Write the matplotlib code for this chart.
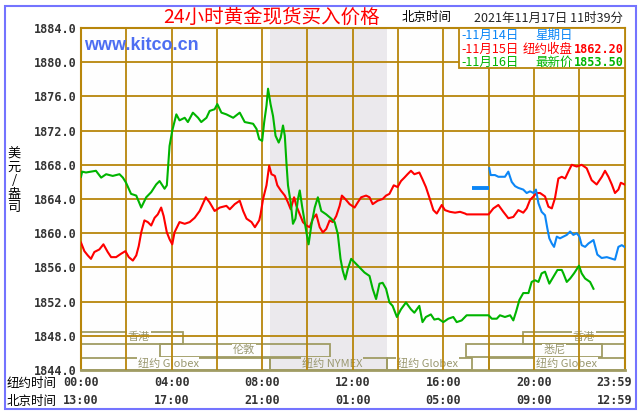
import matplotlib
matplotlib.use('Agg')
import matplotlib.pyplot as plt
from matplotlib.patches import Rectangle

# ---------------- data ----------------
green_hours = [0.0, 0.05, 0.22, 0.66, 0.89, 1.11, 1.40, 1.70, 1.85, 1.99, 2.21, 2.44, 2.66, 2.88, 3.10,
               3.32, 3.47, 3.69, 3.79, 3.91, 4.03, 4.21, 4.35, 4.58, 4.72, 4.94, 5.17, 5.31, 5.54, 5.68,
               5.90, 6.02, 6.20, 6.42, 6.72, 7.01, 7.23, 7.60, 7.75, 7.87, 8.0, 8.09, 8.19, 8.26, 8.37,
               8.48, 8.59, 8.73, 8.82, 8.92, 9.00, 9.07, 9.14, 9.26, 9.36, 9.47, 9.58, 9.66, 9.76, 9.88,
               9.98, 10.05, 10.17, 10.32, 10.46, 10.61, 10.83, 11.05, 11.20, 11.34, 11.46, 11.56, 11.67,
               11.78, 11.93, 12.08, 12.30, 12.52, 12.74, 12.88, 13.03, 13.18, 13.32, 13.47, 13.62, 13.76,
               13.95, 14.13, 14.35, 14.57, 14.72, 14.94, 15.08, 15.23, 15.45, 15.60, 15.78, 16.0, 16.22,
               16.44, 16.59, 16.81, 17.03, 17.18, 18.0, 18.14, 18.36, 18.50, 18.72, 18.95, 19.09, 19.21,
               19.36, 19.53, 19.76, 19.90, 20.05, 20.20, 20.34, 20.49, 20.68, 20.86, 21.04, 21.23, 21.30,
               21.45, 21.60, 21.77, 21.99, 22.11, 22.26, 22.48, 22.63]
green_values = [1866.6, 1867.2, 1867.1, 1867.3, 1866.5, 1866.9, 1866.7, 1866.9, 1866.5, 1865.9, 1864.6,
                1864.4, 1863.0, 1864.2, 1864.8, 1865.7, 1866.1, 1865.2, 1865.6, 1870.2, 1872.0, 1873.9,
                1873.2, 1873.5, 1873.0, 1874.1, 1873.5, 1873.0, 1873.5, 1874.3, 1874.5, 1875.1, 1874.1,
                1873.9, 1873.5, 1874.1, 1873.0, 1872.8, 1872.2, 1871.0, 1870.8, 1873.0, 1874.9, 1876.9,
                1875.1, 1873.7, 1871.4, 1870.6, 1871.2, 1872.6, 1871.4, 1868.3, 1865.6, 1863.6, 1861.1,
                1861.7, 1864.0, 1865.0, 1863.2, 1861.3, 1859.7, 1858.7, 1860.9, 1863.0, 1864.2, 1862.6,
                1862.2, 1861.7, 1861.3, 1859.9, 1857.0, 1855.6, 1854.6, 1855.8, 1857.0, 1856.6, 1856.0,
                1855.4, 1855.0, 1853.5, 1852.3, 1854.1, 1854.2, 1853.5, 1851.9, 1851.5, 1850.2, 1851.1,
                1851.9, 1851.1, 1850.7, 1851.5, 1849.6, 1850.2, 1850.5, 1849.9, 1850.0, 1849.6, 1850.0,
                1850.2, 1849.6, 1849.8, 1850.4, 1850.4, 1850.4, 1850.0, 1850.0, 1850.4, 1850.2, 1850.4,
                1849.8, 1850.8, 1852.2, 1853.0, 1853.0, 1854.3, 1854.5, 1854.3, 1855.3, 1855.5, 1854.1,
                1854.9, 1855.7, 1855.7, 1855.3, 1854.3, 1854.7, 1855.3, 1856.2, 1855.3, 1854.7, 1854.3,
                1853.5]

red_hours = [0.0, 0.15, 0.30, 0.44, 0.59, 0.81, 0.99, 1.18, 1.33, 1.55, 1.77, 1.96, 2.11, 2.29, 2.44,
             2.55, 2.66, 2.80, 2.95, 3.10, 3.25, 3.39, 3.54, 3.65, 3.79, 3.91, 4.03, 4.13, 4.35, 4.58,
             4.80, 5.02, 5.24, 5.51, 5.68, 5.90, 6.13, 6.42, 6.57, 6.79, 7.01, 7.16, 7.31, 7.53, 7.68,
             7.87, 7.93, 8.04, 8.19, 8.31, 8.41, 8.56, 8.67, 8.82, 9.00, 9.14, 9.26, 9.41, 9.51, 9.66,
             9.80, 9.95, 10.10, 10.24, 10.39, 10.54, 10.68, 10.83, 10.98, 11.12, 11.27, 11.42, 11.52,
             11.67, 11.86, 12.08, 12.22, 12.37, 12.59, 12.74, 12.88, 13.10, 13.32, 13.47, 13.62, 13.81,
             13.98, 14.13, 14.28, 14.42, 14.57, 14.72, 14.94, 15.08, 15.23, 15.38, 15.56, 15.71, 15.93,
             16.07, 16.29, 16.52, 16.74, 16.96, 17.03, 18.0, 18.21, 18.43, 18.65, 18.87, 19.09, 19.31,
             19.53, 19.68, 19.83, 19.98, 20.12, 20.27, 20.49, 20.64, 20.79, 20.93, 21.08, 21.23, 21.38,
             21.52, 21.67, 21.89, 22.11, 22.33, 22.55, 22.77, 23.0, 23.14, 23.29, 23.44, 23.58, 23.73,
             23.84, 24.0]
red_values = [1858.9, 1857.9, 1857.4, 1857.0, 1857.8, 1858.1, 1858.7, 1857.8, 1857.2, 1857.2, 1857.6,
              1857.9, 1857.2, 1856.8, 1857.4, 1858.5, 1860.1, 1861.5, 1861.3, 1860.9, 1861.8, 1862.2,
              1863.0, 1862.0, 1860.1, 1859.3, 1858.7, 1860.1, 1861.3, 1861.1, 1861.3, 1861.8, 1862.6,
              1864.2, 1863.6, 1862.6, 1863.0, 1863.2, 1862.8, 1863.4, 1863.8, 1862.6, 1861.7, 1861.3,
              1860.7, 1861.5, 1862.2, 1864.0, 1865.6, 1867.9, 1866.9, 1866.7, 1865.6, 1865.0, 1864.4,
              1863.6, 1862.8, 1864.2, 1863.2, 1862.2, 1861.3, 1860.9, 1860.7, 1861.7, 1862.2, 1860.7,
              1860.1, 1860.5, 1861.5, 1861.3, 1862.0, 1863.2, 1864.4, 1864.0, 1863.4, 1863.0, 1863.6,
              1864.2, 1864.4, 1864.2, 1863.4, 1863.8, 1864.0, 1864.4, 1864.6, 1865.6, 1865.4, 1866.1,
              1866.5, 1866.9, 1867.3, 1866.9, 1867.1, 1866.3, 1865.4, 1864.2, 1862.7, 1862.3, 1863.3,
              1862.7, 1862.5, 1862.4, 1862.5, 1862.3, 1862.2, 1862.2, 1862.9, 1863.3, 1862.5, 1861.75,
              1861.9, 1862.7, 1862.4, 1862.9, 1863.9, 1864.3, 1864.7, 1864.7, 1864.3, 1863.1, 1862.9,
              1864.1, 1866.4, 1866.6, 1866.4, 1867.2, 1868.0, 1867.8, 1868.0, 1867.6, 1866.2, 1865.7,
              1866.6, 1867.3, 1866.6, 1865.7, 1864.7, 1865.1, 1865.9, 1865.7]

blue_dash_hours = [17.28, 18.0]
blue_dash_values = [1865.3, 1865.3]
blue_hours = [18.03, 18.09, 18.28, 18.43, 18.72, 18.87, 19.02, 19.17, 19.31, 19.53, 19.68, 19.83, 19.98,
              20.09, 20.20, 20.34, 20.49, 20.59, 20.68, 20.79, 20.89, 21.01, 21.15, 21.30, 21.45, 21.60,
              21.74, 21.89, 22.01, 22.11, 22.26, 22.41, 22.63, 22.80, 22.99, 23.22, 23.58, 23.73, 23.88,
              24.0]
blue_values = [1867.6, 1866.8, 1866.8, 1866.6, 1866.6, 1867.2, 1866.0, 1865.5, 1865.3, 1865.1, 1864.7,
               1864.9, 1864.7, 1865.1, 1863.5, 1862.5, 1862.1, 1860.6, 1859.4, 1858.8, 1858.4, 1859.6,
               1859.4, 1859.6, 1859.8, 1860.2, 1859.8, 1860.0, 1859.6, 1858.6, 1858.4, 1858.8, 1859.2,
               1857.5, 1857.1, 1857.2, 1856.9, 1858.4, 1858.6, 1858.4]

y_ticks = [1844, 1848, 1852, 1856, 1860, 1864, 1868, 1872, 1876, 1880, 1884]
x_tick_hours = [0, 4, 8, 12, 16, 20, 23.55]
ny_labels = ['00:00', '04:00', '08:00', '12:00', '16:00', '20:00', '23:59']
bj_labels = ['13:00', '17:00', '21:00', '01:00', '05:00', '09:00', '12:59']

session_names = ['香港', '香港', '伦敦', '悉尼', '纽约 Globex', '纽约 NYMEX', '纽约 Globex', '纽约 Globex']
session_start = [0.0, 19.5, 3.5, 17.0, 0.0, 8.33, 13.5, 18.0]
session_end = [4.5, 24.0, 11.0, 23.0, 8.33, 13.5, 17.25, 24.0]
session_row = [0, 0, 1, 1, 2, 2, 2, 2]
session_label_x = [2.55, 22.2, 7.2, 20.9, 3.85, 11.1, 15.3, 21.45]
row_bottom = [1847.05, 1845.55, 1844.0]
row_top = [1848.5, 1847.0, 1845.45]

nymex_band = (8.33, 13.5)

legend_dates = ['-11月14日', '-11月15日', '-11月16日']
legend_names = ['星期日', '纽约收盘', '最新价']
legend_prices = ['', '1862.20', '1853.50']

# ---------------- style ----------------
CJK = ['Noto Sans CJK SC', 'DejaVu Sans']
GRID = '#b8860b'
SESS = '#a09c64'
SESS_TXT = '#9a9870'
RED = '#ff0000'
GREEN = '#00b400'
BLUE = '#0c86f6'
BAND = '#ebe9ed'

W, H = 644, 413
fig = plt.figure(figsize=(W / 100, H / 100), dpi=100)
fig.patch.set_facecolor('white')

def fx(x):
    return x / W

def fy(y):
    return 1 - y / H

L, R, T, B = 81, 624.5, 28, 370
ax = fig.add_axes([fx(L), fy(B), (R - L) / W, (B - T) / H])
ax.set_facecolor('#fefefe')
ax.set_xlim(0, 24)
ax.set_ylim(1844, 1884)

ax.axvspan(nymex_band[0], nymex_band[1], color=BAND, zorder=0.5, lw=0)

# grid
for yv in y_ticks[1:-1]:
    ax.axhline(yv, color=GRID, lw=1.3, zorder=2.8)
for xv in range(2, 24, 2):
    ax.axvline(xv, color=GRID, lw=1.3, zorder=2.8)

# sessions
for name, s, e, r, lx in zip(session_names, session_start, session_end, session_row, session_label_x):
    ax.add_patch(Rectangle((s, row_bottom[r]), e - s, row_top[r] - row_bottom[r],
                           fill=False, edgecolor=SESS, lw=1.3, zorder=2))
    bg = BAND if nymex_band[0] <= lx <= nymex_band[1] else '#fefefe'
    ax.text(lx, (row_bottom[r] + row_top[r]) / 2 + 0.05, name, family=CJK, fontsize=8,
            color=SESS_TXT, ha='center', va='center', zorder=2.5,
            bbox=dict(facecolor=bg, edgecolor='none', pad=0.6))

# data
ax.plot(red_hours, red_values, color=RED, lw=1.5, zorder=4)
ax.plot(green_hours, green_values, color=GREEN, lw=1.5, zorder=4)
ax.plot(blue_hours, blue_values, color=BLUE, lw=1.5, zorder=4)
ax.plot(blue_dash_hours, blue_dash_values, color=BLUE, lw=2.8, zorder=4, solid_capstyle='butt')

# legend box
ax.add_patch(Rectangle((16.69, 1879.3), 24 - 16.69, 4.7, facecolor='white', edgecolor=GRID,
                       lw=1.3, zorder=5))
leg_colors = [BLUE, RED, GREEN]
leg_y = [1883.15, 1881.5, 1879.95]
for d, n, p, c, yv in zip(legend_dates, legend_names, legend_prices, leg_colors, leg_y):
    ax.text(16.78, yv, d, family=CJK, fontsize=9, color=c, ha='left', va='center', zorder=6)
    ax.text(21.72, yv, n, family=CJK, fontsize=9, color=c, ha='right', va='center', zorder=6)
    if p:
        ax.text(21.77, yv, p, family='DejaVu Sans Mono', fontweight='bold', fontsize=8.5,
                color=c, ha='left', va='center', zorder=6)

for sp in ax.spines.values():
    sp.set_color(GRID)
    sp.set_linewidth(1.5)
ax.spines['bottom'].set_color(SESS)
ax.spines['bottom'].set_linewidth(2)

ax.set_yticks(y_ticks)
ax.set_yticklabels(['%.1f' % v for v in y_ticks])
ax.tick_params(axis='y', length=0, pad=3, labelsize=8.5, labelcolor='#333333')
for lab in ax.get_yticklabels():
    lab.set_fontfamily('DejaVu Sans Mono')
    lab.set_fontweight('bold')
ax.set_xticks([])

tr = ax.get_xaxis_transform()
for h, a, b in zip(x_tick_hours, ny_labels, bj_labels):
    ax.text(h, (B - 383) / (B - T), a, transform=tr, family='DejaVu Sans Mono', fontweight='bold',
            fontsize=8.5, color='#333333', ha='center', va='center', clip_on=False)
    ax.text(h, (B - 401) / (B - T), b, transform=tr, family='DejaVu Sans Mono', fontweight='bold',
            fontsize=8.5, color='#333333', ha='center', va='center', clip_on=False)

fig.text(fx(32), fy(383), '纽约时间', family=CJK, fontsize=9, color='black', ha='center', va='center')
fig.text(fx(32), fy(401), '北京时间', family=CJK, fontsize=9, color='black', ha='center', va='center')

# titles and labels
fig.text(fx(272), fy(17), '24小时黄金现货买入价格', family=CJK, fontsize=14, color='red',
         ha='center', va='center')
fig.text(fx(427), fy(18), '北京时间', family=CJK, fontsize=9, color='black', ha='center', va='center')
fig.text(fx(548), fy(18), '2021年11月17日 11时39分', family=CJK, fontsize=9, color='#222222',
         ha='center', va='center')
fig.text(fx(14), fy(181), '美\n元\n/\n盎\n司', family=CJK, fontsize=9.5, color='black',
         ha='center', va='center', linespacing=1.05)
fig.text(fx(84), fy(46), 'www.kitco.cn', family='Liberation Sans', fontweight='bold', fontsize=13,
         color='#4d6ef2', ha='left', va='center')

# outer blue frame
fig.add_artist(Rectangle((fx(5), fy(409)), 631 / W, 403 / H, transform=fig.transFigure,
                         fill=False, edgecolor='#7474ff', lw=1.5))

fig.savefig('out.png', dpi=100, facecolor='white')
